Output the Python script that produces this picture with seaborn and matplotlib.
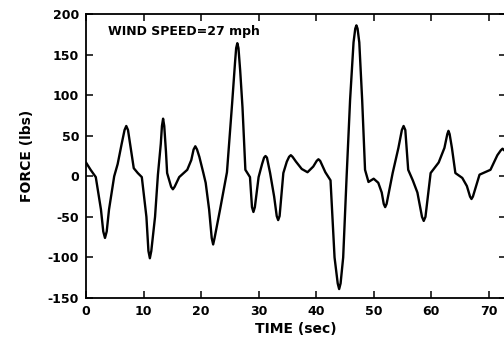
import matplotlib
matplotlib.use("Agg")
import matplotlib.pyplot as plt
import seaborn as sns
import pandas as pd

# Force record under a 27 mph wind
time_sec = [0.0, 0.8, 1.7, 2.6, 3.0, 3.3, 3.6, 4.0, 4.9, 5.5, 6.2, 6.7, 7.0, 7.3,
            7.7, 8.3, 9.0, 9.7, 10.5, 10.85, 11.1, 11.35, 12.0, 12.5, 13.0, 13.2,
            13.4, 13.6, 13.9, 14.1, 14.8, 15.1, 15.4, 16.2, 17.6, 18.3, 18.7, 19.0,
            19.3, 19.7, 20.4, 20.8, 21.4, 21.85, 22.1, 22.35, 23.3, 24.5, 25.4,
            25.9, 26.1, 26.3, 26.5, 26.8, 27.2, 27.7, 28.5, 28.85, 29.1, 29.35,
            30.0, 30.6, 30.95, 31.2, 31.45, 32.0, 32.7, 33.15, 33.4, 33.65, 34.3,
            34.9, 35.3, 35.6, 35.9, 36.5, 37.5, 38.5, 39.5, 40.1, 40.4, 40.7, 41.6,
            42.5, 43.2, 43.75, 44.0, 44.25, 44.7, 45.3, 45.9, 46.5, 46.8, 47.0,
            47.2, 47.5, 48.0, 48.5, 49.1, 50.0, 50.8, 51.4, 51.75, 52.0, 52.25,
            53.3, 54.3, 54.9, 55.2, 55.5, 56.0, 56.8, 57.6, 58.4, 58.7, 59.0, 59.9,
            61.3, 62.3, 62.8, 63.0, 63.2, 63.6, 64.2, 65.4, 66.2, 66.75, 67.0,
            67.25, 68.4, 70.3, 71.5, 72.1, 72.4, 73.0]
force_lbs = [17, 8, -1, -41, -68, -76, -68, -41, 0, 15, 40, 57, 62, 57,
             38, 10, 4, -1, -50, -92, -101, -92, -50, 2, 40, 62,
             71, 62, 30, 4, -13, -16, -13, -1, 8, 20, 33, 37,
             33, 24, 4, -8, -41, -76, -84, -76, -41, 5, 90,
             140, 158, 164, 158, 130, 85, 8, -1, -38, -44, -38,
             -1, 15, 23, 25, 23, 4, -25, -49, -54, -49, 4,
             18, 24, 26, 24, 18, 9, 5, 12, 19, 21, 19, 5,
             -5, -100, -132, -139, -132, -100, 0, 94, 165, 182, 186,
             182, 165, 94, 8, -7, -3, -8, -20, -34, -38, -34,
             4, 35, 57, 62, 57, 8, -5, -20, -50, -55, -50, 4,
             17, 35, 52, 56, 52, 35, 4, -2, -12, -25, -28,
             -25, 2, 8, 26, 32, 34, 30]

x_ticks = [0, 10, 20, 30, 40, 50, 60, 70]
y_ticks = [-150, -100, -50, 0, 50, 100, 150, 200]

sns.set_style("ticks")
plt.rcParams["font.family"] = ["DejaVu Sans"]
plt.rcParams["font.weight"] = "bold"
plt.rcParams["axes.labelcolor"] = "black"
plt.rcParams["text.color"] = "black"

df = pd.DataFrame({"t": time_sec, "f": force_lbs})

fig = plt.figure(figsize=(5.04, 3.47), dpi=100)
ax = fig.add_axes([86 / 504, 1 - 298 / 347, 420 / 504, 284 / 347])

sns.lineplot(data=df, x="t", y="f", ax=ax, color="black", linewidth=1.7)

ax.set_xlim(0, 73)
ax.set_ylim(-150, 200)
ax.set_xticks(x_ticks)
ax.set_yticks(y_ticks)
ax.set_xticklabels([str(v) for v in x_ticks], fontsize=9, fontweight="bold")
ax.set_yticklabels([str(v) for v in y_ticks], fontsize=9, fontweight="bold")
ax.tick_params(direction="in", length=5, width=1.1, top=True, right=True,
               color="black", labelcolor="black")
ax.tick_params(axis="x", pad=5)
ax.tick_params(axis="y", pad=5)
for s in ax.spines.values():
    s.set_linewidth(1.3)
    s.set_color("black")

ax.set_xlabel("TIME (sec)", fontsize=10, fontweight="bold", labelpad=3,
              color="black")
ax.set_ylabel("FORCE (lbs)", fontsize=10, fontweight="bold", labelpad=10,
              color="black")

ax.text(3.8, 178, "WIND SPEED=27 mph", fontsize=9, fontweight="bold",
        va="center", ha="left", color="black")

fig.savefig("out.png", dpi=100)
